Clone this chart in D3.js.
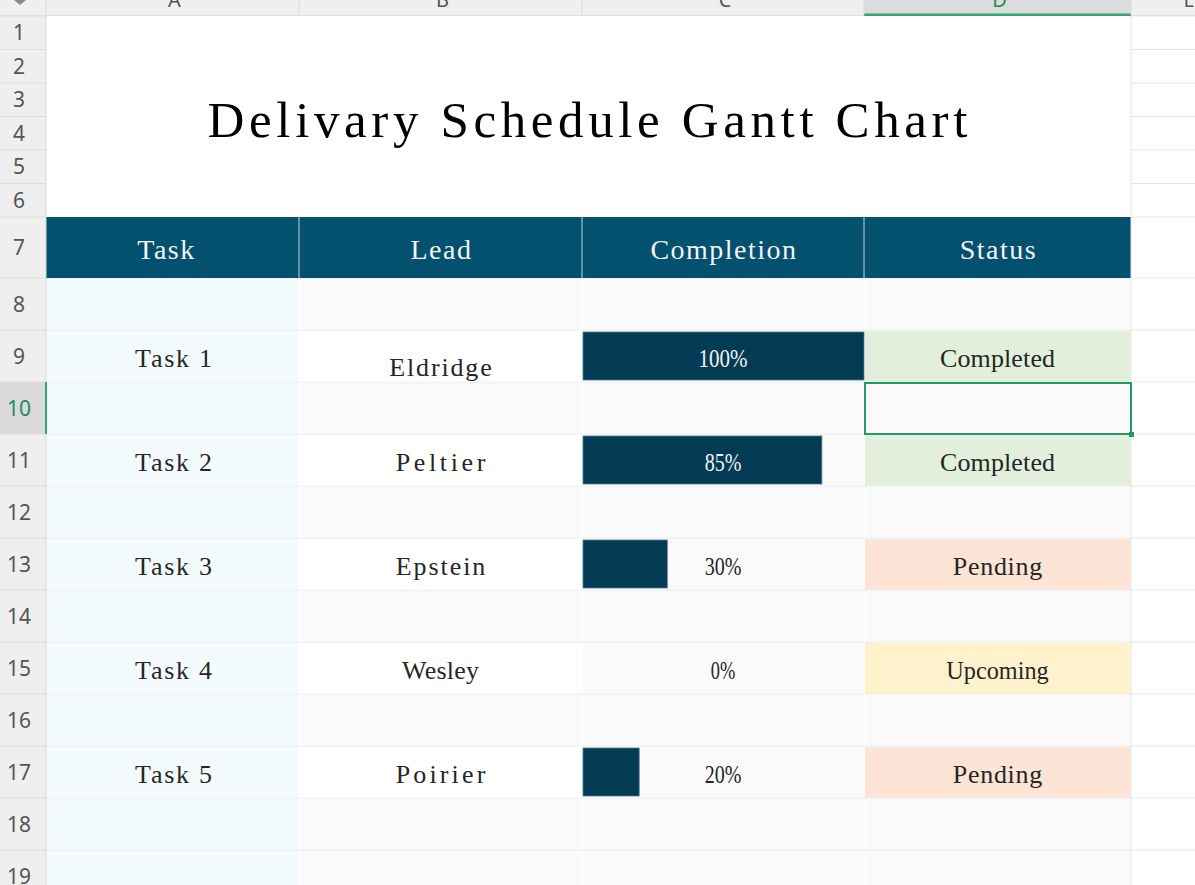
<!DOCTYPE html>
<html>
<head>
<meta charset="utf-8">
<script src="https://cdn.jsdelivr.net/npm/d3@7"></script>
<style>
  body { margin: 0; background: #fff; }
  svg { display: block; }
</style>
</head>
<body>
<svg id="sheet" width="1195" height="885"></svg>
<script>
// sheet data
var title = "Delivary Schedule Gantt Chart";
var headers = ["Task", "Lead", "Completion", "Status"];
var tasks = ["Task 1", "Task 2", "Task 3", "Task 4", "Task 5"];
var leads = ["Eldridge", "Peltier", "Epstein", "Wesley", "Poirier"];
var completion = [1.00, 0.85, 0.30, 0.00, 0.20];
var statuses = ["Completed", "Completed", "Pending", "Upcoming", "Pending"];
var colLetters = ["A", "B", "C", "D", "E"];

var statusColor = {Completed: "#e2efda", Pending: "#fce4d6", Upcoming: "#fff2cc"};

var svg = d3.select('#sheet');
var serif = "'Liberation Serif', 'DejaVu Serif', serif";
var sans = "'Noto Sans', 'Liberation Sans', sans-serif";

// column edges (row header, A..E)
var colX = [46, 299, 582, 864, 1131, 1243];
// row heights: 1-6 title rows, 7 header, 8-19 body
var rowH = [33.5, 33.5, 33.5, 33.5, 33.5, 33.5, 61];
for (var k = 0; k < 12; k++) rowH.push(52);
var rowTop = [16];
rowH.forEach(function(h, i) { rowTop.push(rowTop[i] + h); });
function rTop(r) { return rowTop[r - 1]; }
function rBot(r) { return rowTop[r]; }
function cx(c) { return (colX[c] + colX[c + 1]) / 2; }

// text fitted to the fixed pitch of the sheet font
function pitchText(g, str, x, y, size, w, color) {
	var t = g.append('text')
		.attr('x', x).attr('y', y)
		.attr('text-anchor', 'middle')
		.style('font-family', serif)
		.style('font-size', size + 'px')
		.style('fill', color)
		.text(str);
	var want = str.length * w;
	var have = t.node().getComputedTextLength();
	t.attr('textLength', want)
		.attr('lengthAdjust', have > want ? 'spacingAndGlyphs' : 'spacing');
	return t;
}

// --- grid lines
var grid = svg.append('g');
rowTop.forEach(function(y) {
	grid.append('line').attr('x1', 0).attr('x2', 1195).attr('y1', y).attr('y2', y)
		.style('stroke', '#e6e6e6').style('stroke-width', 1);
});

// --- title block (rows 1-6 merged)
svg.append('rect').attr('x', colX[0]).attr('y', rTop(1))
	.attr('width', colX[4] - colX[0]).attr('height', rBot(6) - rTop(1))
	.style('fill', '#fff');
pitchText(svg, title, 587.5, 137, 51, 26.2, '#000');

// --- header row 7
var hdr = svg.append('g');
hdr.append('rect').attr('x', colX[0]).attr('y', rTop(7))
	.attr('width', colX[4] - colX[0]).attr('height', rowH[6])
	.style('fill', '#03506f');
[1, 2, 3].forEach(function(c) {
	hdr.append('line').attr('x1', colX[c]).attr('x2', colX[c])
		.attr('y1', rTop(7)).attr('y2', rBot(7))
		.style('stroke', '#c5d5dd').style('stroke-width', 1);
});
headers.forEach(function(h, c) {
	hdr.append('text')
		.attr('x', cx(c) + (c === 0 ? -6 : 1)).attr('y', 259)
		.attr('text-anchor', 'middle')
		.style('font-family', serif)
		.style('font-size', '28px')
		.style('letter-spacing', '1.5px')
		.style('fill', '#f4f4f4')
		.text(h);
});

// --- body cells rows 8-19
var body = svg.append('g');
for (var r = 8; r <= 19; r++) {
	var odd = (r % 2 === 1);
	var ti = (r - 9) / 2;
	var isTask = odd && ti >= 0 && ti < tasks.length;
	for (var c = 0; c < 4; c++) {
		var fill = '#fafafa';
		if (c === 0) fill = '#f3fbfe';
		else if (c === 1 && isTask) fill = '#ffffff';
		else if (c === 3 && isTask) fill = statusColor[statuses[ti]];
		body.append('rect')
			.attr('x', colX[c] + 1).attr('y', rTop(r) + 1)
			.attr('width', colX[c + 1] - colX[c] - 1.5).attr('height', rowH[r - 1] - 1.5)
			.style('fill', fill);
	}
}

// --- completion bars
var xBar = d3.scaleLinear().domain([0, 1]).range([0, colX[3] - colX[2] - 1]);
var bars = svg.append('g');
bars.selectAll('rect')
	.data(completion)
	.join('rect')
	.attr('x', colX[2] + 1)
	.attr('y', function(d, i) { return rTop(9 + 2 * i) + 2; })
	.attr('width', function(d) { return xBar(d); })
	.attr('height', 48)
	.style('fill', '#033a54')
	.style('stroke', function(d) { return d > 0 ? '#4f7d92' : 'none'; })
	.style('stroke-width', 0.8);

// --- cell texts
var txt = svg.append('g');
var charW = 12.8;
tasks.forEach(function(t, i) {
	var r = 9 + 2 * i;
	var base = rTop(r) + 37;
	pitchText(txt, t, cx(0) + 1, base, 26, charW, '#262626');
	pitchText(txt, leads[i], cx(1), i === 0 ? base + 9 : base, 26, charW, '#262626');
	var pct = d3.format('.0%')(completion[i]);
	var onBar = xBar(completion[i]) > (cx(2) - colX[2]) + 30;
	pitchText(txt, pct, cx(2), base, 26, 12.25, onBar ? '#f2f2f2' : '#262626');
	pitchText(txt, statuses[i], cx(3), base, 26, charW, '#262626');
});

// --- outer border right of D
svg.append('line').attr('x1', colX[4]).attr('x2', colX[4]).attr('y1', 16).attr('y2', 885)
	.style('stroke', '#e3e3e3');

// --- selected cell D10
svg.append('rect').attr('x', colX[3] + 1).attr('y', rTop(10) + 1)
	.attr('width', colX[4] - colX[3] - 1).attr('height', rowH[9] - 1)
	.style('fill', 'none').style('stroke', '#1e9c66').style('stroke-width', 2);
svg.append('rect').attr('x', colX[4] - 2).attr('y', rBot(10) - 2)
	.attr('width', 5).attr('height', 5).style('fill', '#1e9c66');

// --- column header bar (letters are cut by the window edge, as in the sheet)
var colHdr = svg.append('g');
colHdr.append('rect').attr('x', 0).attr('y', 0).attr('width', 1195).attr('height', 15)
	.style('fill', '#efefef');
colHdr.append('rect').attr('x', colX[3]).attr('y', 0).attr('width', colX[4] - colX[3]).attr('height', 15)
	.style('fill', '#dcdcdc');
colHdr.append('line').attr('x1', 0).attr('x2', 1195).attr('y1', 15.5).attr('y2', 15.5)
	.style('stroke', '#dedede');
colHdr.append('rect').attr('x', colX[3]).attr('y', 13.5).attr('width', colX[4] - colX[3]).attr('height', 2.5)
	.style('fill', '#2ea66f');
colX.slice(0, 5).forEach(function(x) {
	colHdr.append('line').attr('x1', x).attr('x2', x).attr('y1', 0).attr('y2', 15)
		.style('stroke', '#dcdcdc');
});
colLetters.forEach(function(l, c) {
	colHdr.append('text')
		.attr('x', cx(c) + 2).attr('y', 7)
		.attr('text-anchor', 'middle')
		.style('font-family', sans).style('font-size', '20px')
		.style('fill', c === 3 ? '#1e8c5a' : '#555')
		.text(l);
});
colHdr.append('path').attr('d', 'M14,0 L26,0 L20,5 Z').style('fill', '#8a8a8a');

// --- row header column
var rowHdr = svg.append('g');
rowHdr.append('rect').attr('x', 0).attr('y', 16).attr('width', colX[0]).attr('height', 885)
	.style('fill', '#efefef');
rowHdr.append('rect').attr('x', 0).attr('y', rTop(10)).attr('width', colX[0]).attr('height', rowH[9])
	.style('fill', '#d9d9d9');
rowTop.forEach(function(y) {
	rowHdr.append('line').attr('x1', 0).attr('x2', colX[0]).attr('y1', y).attr('y2', y)
		.style('stroke', '#dcdcdc');
});
rowHdr.append('line').attr('x1', colX[0]).attr('x2', colX[0]).attr('y1', 16).attr('y2', 885)
	.style('stroke', '#d6d6d6');
rowHdr.append('rect').attr('x', colX[0] - 1).attr('y', rTop(10)).attr('width', 2).attr('height', rowH[9])
	.style('fill', '#2ea66f');
rowH.forEach(function(h, i) {
	rowHdr.append('text')
		.attr('x', 19).attr('y', rowTop[i] + h / 2 + 7.5)
		.attr('text-anchor', 'middle')
		.style('font-family', sans).style('font-size', '21px')
		.style('fill', i === 9 ? '#1e8c5a' : '#555')
		.text(i + 1);
});
</script>
</body>
</html>
